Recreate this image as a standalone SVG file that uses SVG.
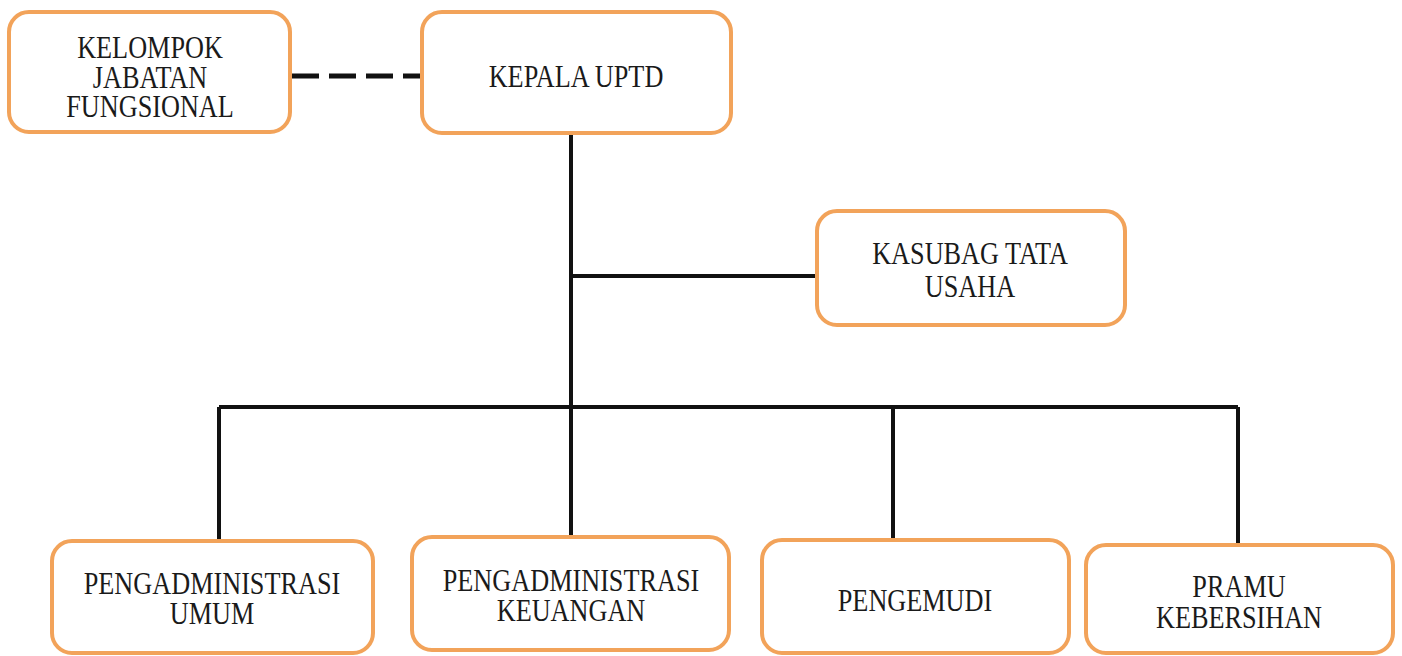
<svg xmlns="http://www.w3.org/2000/svg" width="1402" height="656" viewBox="0 0 1402 656">
<style>
.box{fill:#fff;stroke:#F2A35A;stroke-width:4}
.t{font-family:'Liberation Serif','DejaVu Serif',serif;font-size:32px;fill:#1a1a1a;text-anchor:middle;dominant-baseline:central}
.ln{stroke:#111;stroke-width:4;fill:none}
.dash{stroke:#111;stroke-width:5;fill:none;stroke-dasharray:27 10}
</style>
<rect width="1402" height="656" fill="#fff"/>
<g id="connectors">
<path class="dash" d="M292 76H421"/>
<path class="ln" d="M571 133V407M571 276H817M219 407H1238M219 407V541M571 407V537M893 407V540M1238 407V545"/>
</g>
<g id="kelompok"><rect class="box" x="9" y="12" width="281" height="120" rx="20"/><text class="t" transform="matrix(0.82 0 0 1 150 47)">KELOMPOK</text><text class="t" transform="matrix(0.82 0 0 1 150 77)">JABATAN</text><text class="t" transform="matrix(0.82 0 0 1 150 106)">FUNGSIONAL</text></g>
<g id="kepala"><rect class="box" x="422" y="12" width="309" height="121" rx="20"/><text class="t" transform="matrix(0.82 0 0 1 576 76)">KEPALA UPTD</text></g>
<g id="kasubag"><rect class="box" x="817" y="211" width="308" height="114" rx="20"/><text class="t" transform="matrix(0.82 0 0 1 970 253)">KASUBAG TATA</text><text class="t" transform="matrix(0.82 0 0 1 970 286)">USAHA</text></g>
<g id="umum"><rect class="box" x="52" y="541" width="321" height="112" rx="20"/><text class="t" transform="matrix(0.82 0 0 1 212 583)">PENGADMINISTRASI</text><text class="t" transform="matrix(0.82 0 0 1 212 613)">UMUM</text></g>
<g id="keuangan"><rect class="box" x="412" y="537" width="317" height="113" rx="20"/><text class="t" transform="matrix(0.82 0 0 1 571 580)">PENGADMINISTRASI</text><text class="t" transform="matrix(0.82 0 0 1 571 610)">KEUANGAN</text></g>
<g id="pengemudi"><rect class="box" x="762" y="540" width="307" height="113" rx="20"/><text class="t" transform="matrix(0.82 0 0 1 915 600)">PENGEMUDI</text></g>
<g id="pramu"><rect class="box" x="1086" y="545" width="307" height="108" rx="20"/><text class="t" transform="matrix(0.82 0 0 1 1239 586)">PRAMU</text><text class="t" transform="matrix(0.82 0 0 1 1239 617)">KEBERSIHAN</text></g>
</svg>
